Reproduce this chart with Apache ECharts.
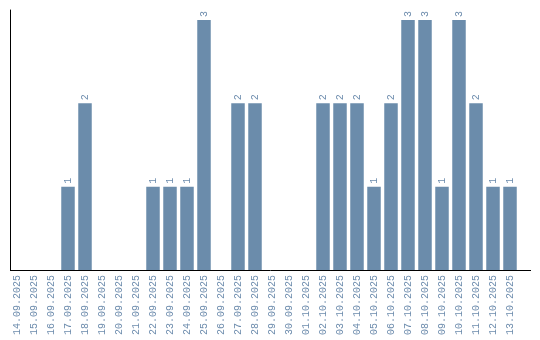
<!DOCTYPE html>
<html><head><meta charset="utf-8">
<script src="https://cdn.jsdelivr.net/npm/echarts@6/dist/echarts.min.js"></script>
<style>html,body{margin:0;padding:0;background:#fff}#c{width:540px;height:340px}</style>
</head><body><div id="c"></div>
<script>
const categories = ["14.09.2025","15.09.2025","16.09.2025","17.09.2025","18.09.2025","19.09.2025","20.09.2025","21.09.2025","22.09.2025","23.09.2025","24.09.2025","25.09.2025","26.09.2025","27.09.2025","28.09.2025","29.09.2025","30.09.2025","01.10.2025","02.10.2025","03.10.2025","04.10.2025","05.10.2025","06.10.2025","07.10.2025","08.10.2025","09.10.2025","10.10.2025","11.10.2025","12.10.2025","13.10.2025"];
const values = [0,0,0,1,2,0,0,0,1,1,1,3,0,2,2,0,0,0,2,2,2,1,2,3,3,1,3,2,1,1];
const chart = echarts.init(document.getElementById('c'), null, {renderer:'canvas'});
const txt = '#6d8cad';
chart.setOption({
  animation:false,
  grid:{left:8.5,right:21.5,top:10,bottom:70,containLabel:false},
  graphic:[{type:'line',shape:{x1:10,y1:270.5,x2:531,y2:270.5},style:{stroke:'#000',lineWidth:1},z:10}],
  xAxis:{type:'category',data:categories,
    axisLine:{show:false},axisTick:{show:false},
    axisLabel:{rotate:90,interval:0,color:txt,fontFamily:'Liberation Mono',fontSize:10,margin:5}},
  yAxis:{type:'value',min:0,max:3.12,offset:-2,axisLine:{show:true,lineStyle:{color:'#000',width:1}},
    axisTick:{show:false},axisLabel:{show:false},splitLine:{show:false}},
  series:[{type:'bar',data:values,barWidth:13.5,itemStyle:{color:'#6b8cab'},
    label:{show:true,position:'top',rotate:90,align:'left',verticalAlign:'middle',distance:3,color:txt,fontFamily:'Liberation Mono',fontSize:10,
      formatter:p=>p.value>0?String(p.value):''}}]
});
</script></body></html>
